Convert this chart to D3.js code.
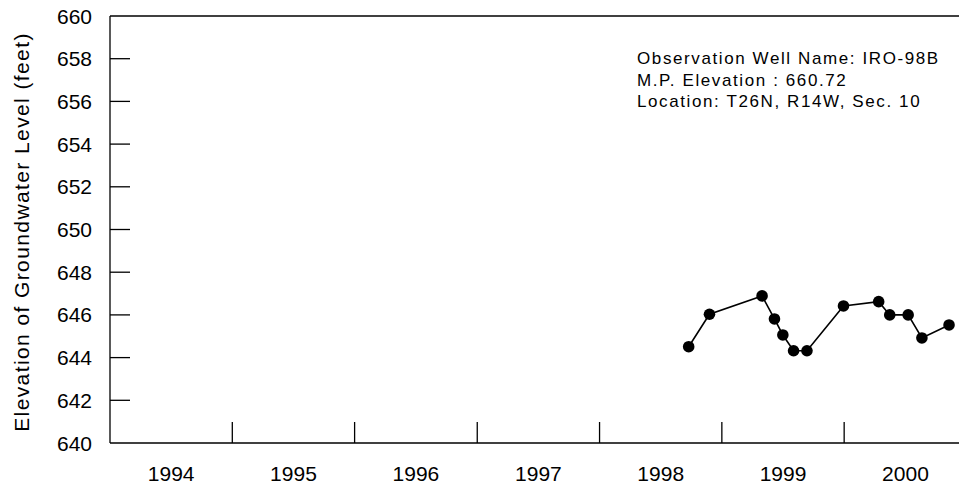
<!DOCTYPE html>
<html>
<head>
<meta charset="utf-8">
<script src="https://cdn.jsdelivr.net/npm/d3@7"></script>
<style>
  html, body { margin: 0; padding: 0; background: #fff; }
  svg { display: block; font-family: "Liberation Sans", Arial, sans-serif; }
</style>
</head>
<body>
<svg id="chart" width="959" height="489"></svg>
<script>
// Groundwater level measurements, well IRO-98B
const sampleDates = [
  "1998-09-24", "1998-11-25", "1999-05-01", "1999-06-07", "1999-07-02",
  "1999-08-03", "1999-09-12", "1999-12-30", "2000-04-13", "2000-05-16",
  "2000-07-10", "2000-08-20", "2000-11-09"
];
const levels = [
  644.51, 646.03, 646.89, 645.81, 645.06,
  644.32, 644.32, 646.42, 646.62, 646.00,
  646.00, 644.92, 645.53
];
const yearLabels = ["1994", "1995", "1996", "1997", "1998", "1999", "2000"];
const yTicks = [640, 642, 644, 646, 648, 650, 652, 654, 656, 658, 660];
const infoLines = [
  "Observation Well Name: IRO-98B",
  "M.P. Elevation : 660.72",
  "Location: T26N, R14W, Sec. 10"
];

const W = 959, H = 489;
const plotLeft = 110, plotTop = 16, plotBottom = 443;
const yearWidth = 122.4;

const svg = d3.select("#chart");
const parse = d3.timeParse("%Y-%m-%d");

const x = d3.scaleTime()
  .domain([new Date(1994, 0, 1), new Date(2001, 0, 1)])
  .range([plotLeft, plotLeft + 7 * yearWidth]);
const y = d3.scaleLinear().domain([640, 660]).range([plotBottom, plotTop]);

const pts = sampleDates.map((d, i) => ({ date: parse(d), value: levels[i] }));

// frame: left axis, top edge, bottom axis
svg.append("line").attr("x1", plotLeft).attr("x2", plotLeft).attr("y1", plotTop).attr("y2", plotBottom)
  .attr("stroke", "#000").attr("stroke-width", 1.3);
svg.append("line").attr("x1", plotLeft).attr("x2", W).attr("y1", plotTop).attr("y2", plotTop)
  .attr("stroke", "#000").attr("stroke-width", 1.3);
svg.append("line").attr("x1", plotLeft).attr("x2", W).attr("y1", plotBottom).attr("y2", plotBottom)
  .attr("stroke", "#000").attr("stroke-width", 1.3);

// y ticks pointing inward
const yg = svg.append("g");
yg.selectAll("line").data(yTicks.slice(1, -1)).join("line")
  .attr("x1", plotLeft).attr("x2", plotLeft + 20)
  .attr("y1", d => y(d)).attr("y2", d => y(d))
  .attr("stroke", "#000").attr("stroke-width", 1.3);
yg.selectAll("text").data(yTicks).join("text")
  .attr("x", 92).attr("y", d => y(d)).attr("dy", "0.36em")
  .attr("text-anchor", "end").attr("font-size", 21)
  .text(d => d);

// x ticks at year boundaries, labels centred within each year
const yearStarts = yearLabels.map(s => new Date(+s, 0, 1));
const xg = svg.append("g");
xg.selectAll("line").data(yearStarts.slice(1)).join("line")
  .attr("x1", d => x(d)).attr("x2", d => x(d))
  .attr("y1", plotBottom).attr("y2", plotBottom - 21)
  .attr("stroke", "#000").attr("stroke-width", 1.3);
xg.selectAll("text").data(yearLabels).join("text")
  .attr("x", s => (x(new Date(+s, 0, 1)) + x(new Date(+s + 1, 0, 1))) / 2)
  .attr("y", 481)
  .attr("text-anchor", "middle").attr("font-size", 21)
  .text(s => s);

// axis title
svg.append("text")
  .attr("transform", "translate(28.5,232) rotate(-90)")
  .attr("text-anchor", "middle").attr("font-size", 21)
  .attr("letter-spacing", 1.4)
  .text("Elevation of Groundwater Level (feet)");

// well info block
svg.append("g").selectAll("text").data(infoLines).join("text")
  .attr("x", 637).attr("y", (d, i) => 64 + i * 21.5)
  .attr("font-size", 17).attr("letter-spacing", 1.6)
  .text(d => d);

// series
const line = d3.line().x(d => x(d.date)).y(d => y(d.value));
svg.append("path").datum(pts).attr("d", line)
  .attr("fill", "none").attr("stroke", "#000").attr("stroke-width", 1.6);
svg.append("g").selectAll("circle").data(pts).join("circle")
  .attr("cx", d => x(d.date)).attr("cy", d => y(d.value)).attr("r", 5.8)
  .attr("fill", "#000");
</script>
</body>
</html>
